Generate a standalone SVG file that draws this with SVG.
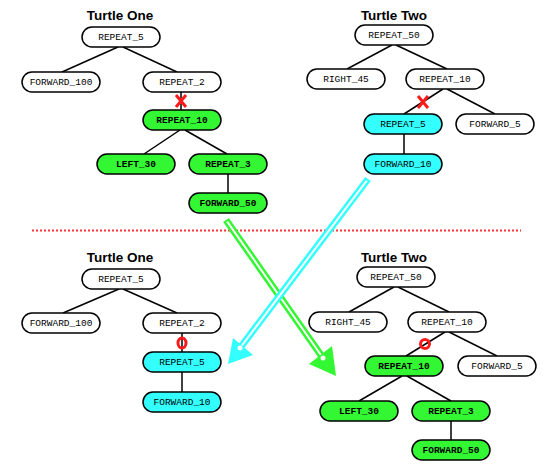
<svg xmlns="http://www.w3.org/2000/svg" width="560" height="476" viewBox="0 0 560 476">
<style>
.n rect{stroke:#000;stroke-width:1.5;}
.w rect{fill:#fff;}
.g rect{fill:#33f733;}
.c rect{fill:#33ffff;}
.n text{font-family:"Liberation Mono","Courier New",monospace;font-size:9.5px;text-anchor:middle;fill:#000;}
.g text{font-weight:bold;}
.t{font-family:"Liberation Sans",Arial,sans-serif;font-weight:bold;font-size:13.5px;text-anchor:middle;fill:#000;}
.e line{stroke:#000;stroke-width:1.5;}
.mk{stroke:#ff1a1a;stroke-width:3;fill:none;}
</style>
<rect width="560" height="476" fill="#fff"/>
<text class="t" x="120" y="20">Turtle One</text>
<text class="t" x="394" y="20">Turtle Two</text>
<text class="t" x="120" y="262">Turtle One</text>
<text class="t" x="394" y="262">Turtle Two</text>
<line x1="32" y1="230.5" x2="521" y2="230.5" stroke="#ff3333" stroke-width="2" stroke-dasharray="2,2"/>
<g id="edges" class="e">
<line x1="118" y1="47" x2="62" y2="72"/>
<line x1="123" y1="47" x2="177" y2="72"/>
<line x1="181" y1="92" x2="181" y2="110"/>
<line x1="180" y1="130" x2="144" y2="154"/>
<line x1="185" y1="130" x2="227" y2="154"/>
<line x1="228" y1="174" x2="228" y2="193"/>
<line x1="392" y1="45" x2="347" y2="69"/>
<line x1="396" y1="45" x2="447" y2="69"/>
<line x1="443" y1="89" x2="404" y2="114"/>
<line x1="447" y1="89" x2="495" y2="114"/>
<line x1="404" y1="134" x2="404" y2="154"/>
<line x1="119" y1="289" x2="63" y2="313"/>
<line x1="123" y1="289" x2="177" y2="313"/>
<line x1="182" y1="333" x2="182" y2="352"/>
<line x1="182" y1="372" x2="182" y2="392"/>
<line x1="394" y1="287" x2="349" y2="312"/>
<line x1="398" y1="287" x2="449" y2="312"/>
<line x1="445" y1="332" x2="406" y2="356"/>
<line x1="449" y1="332" x2="497" y2="356"/>
<line x1="402" y1="376" x2="359" y2="401"/>
<line x1="407" y1="376" x2="451" y2="401"/>
<line x1="451" y1="421" x2="451" y2="440"/>
</g>
<g id="t1-repeat5" class="n w"><rect x="82" y="27" width="78" height="20" rx="10"/><text x="121" y="40">REPEAT_5</text></g>
<g id="t1-forward100" class="n w"><rect x="22" y="72" width="78" height="20" rx="10"/><text x="61" y="85">FORWARD_100</text></g>
<g id="t1-repeat2" class="n w"><rect x="143" y="72" width="78" height="20" rx="10"/><text x="182" y="85">REPEAT_2</text></g>
<g id="t1-repeat10" class="n g"><rect x="143" y="110" width="78" height="20" rx="10"/><text x="182" y="123">REPEAT_10</text></g>
<g id="t1-left30" class="n g"><rect x="97" y="154" width="78" height="20" rx="10"/><text x="136" y="167">LEFT_30</text></g>
<g id="t1-repeat3" class="n g"><rect x="189" y="154" width="78" height="20" rx="10"/><text x="228" y="167">REPEAT_3</text></g>
<g id="t1-forward50" class="n g"><rect x="189" y="193" width="78" height="20" rx="10"/><text x="228" y="206">FORWARD_50</text></g>
<g id="t2-repeat50" class="n w"><rect x="355" y="25" width="78" height="20" rx="10"/><text x="394" y="38">REPEAT_50</text></g>
<g id="t2-right45" class="n w"><rect x="307" y="69" width="78" height="20" rx="10"/><text x="346" y="82">RIGHT_45</text></g>
<g id="t2-repeat10" class="n w"><rect x="406" y="69" width="78" height="20" rx="10"/><text x="445" y="82">REPEAT_10</text></g>
<g id="t2-repeat5" class="n c"><rect x="364" y="114" width="78" height="20" rx="10"/><text x="403" y="127">REPEAT_5</text></g>
<g id="t2-forward5" class="n w"><rect x="456" y="114" width="78" height="20" rx="10"/><text x="495" y="127">FORWARD_5</text></g>
<g id="t2-forward10" class="n c"><rect x="364" y="154" width="78" height="20" rx="10"/><text x="403" y="167">FORWARD_10</text></g>
<g id="b1-repeat5" class="n w"><rect x="82" y="269" width="78" height="20" rx="10"/><text x="121" y="282">REPEAT_5</text></g>
<g id="b1-forward100" class="n w"><rect x="22" y="313" width="78" height="20" rx="10"/><text x="61" y="326">FORWARD_100</text></g>
<g id="b1-repeat2" class="n w"><rect x="143" y="313" width="78" height="20" rx="10"/><text x="182" y="326">REPEAT_2</text></g>
<g id="b1-repeat5c" class="n c"><rect x="143" y="352" width="78" height="20" rx="10"/><text x="182" y="365">REPEAT_5</text></g>
<g id="b1-forward10" class="n c"><rect x="143" y="392" width="78" height="20" rx="10"/><text x="182" y="405">FORWARD_10</text></g>
<g id="b2-repeat50" class="n w"><rect x="357" y="267" width="78" height="20" rx="10"/><text x="396" y="280">REPEAT_50</text></g>
<g id="b2-right45" class="n w"><rect x="309" y="312" width="78" height="20" rx="10"/><text x="348" y="325">RIGHT_45</text></g>
<g id="b2-repeat10" class="n w"><rect x="408" y="312" width="78" height="20" rx="10"/><text x="447" y="325">REPEAT_10</text></g>
<g id="b2-repeat10g" class="n g"><rect x="365" y="356" width="78" height="20" rx="10"/><text x="404" y="369">REPEAT_10</text></g>
<g id="b2-forward5" class="n w"><rect x="458" y="356" width="78" height="20" rx="10"/><text x="497" y="369">FORWARD_5</text></g>
<g id="b2-left30" class="n g"><rect x="320" y="401" width="78" height="20" rx="10"/><text x="359" y="414">LEFT_30</text></g>
<g id="b2-repeat3" class="n g"><rect x="412" y="401" width="78" height="20" rx="10"/><text x="451" y="414">REPEAT_3</text></g>
<g id="b2-forward50" class="n g"><rect x="412" y="440" width="78" height="20" rx="10"/><text x="451" y="453">FORWARD_50</text></g>
<g id="marks">
<path class="mk" d="M176,95 L186,107 M186,95 L176,107"/>
<path class="mk" d="M418,96 L428,108 M428,96 L418,108"/>
<ellipse class="mk" cx="182" cy="343" rx="4" ry="5"/>
<ellipse class="mk" cx="425" cy="344" rx="4.5" ry="4.5"/>
</g>
<g id="arrows">
<line x1="226" y1="220" x2="323" y2="358" stroke="#33f733" stroke-width="7"/>
<line x1="227.2" y1="221.6" x2="323" y2="358" stroke="#fff" stroke-width="2"/>
<polygon points="336,376 309,364 332,346" fill="#33f733"/>
<circle cx="323" cy="358" r="2.5" fill="#fff"/>
<line x1="368" y1="179" x2="240" y2="348" stroke="#33ffff" stroke-width="7"/>
<line x1="366.8" y1="180.6" x2="240" y2="348" stroke="#fff" stroke-width="2"/>
<polygon points="228,364 233,338 253,355" fill="#33ffff"/>
<circle cx="240" cy="348" r="2.5" fill="#fff"/>
</g>
</svg>
